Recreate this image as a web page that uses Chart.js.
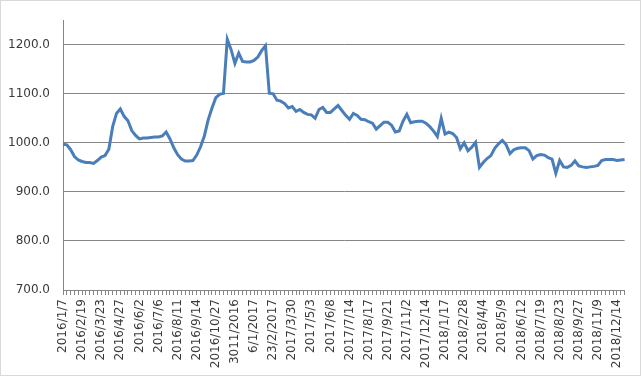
<!DOCTYPE html>
<html>
<head>
<meta charset="utf-8">
<script src="https://cdn.jsdelivr.net/npm/chart.js@4.4.1/dist/chart.umd.min.js"></script>
<style>
  html, body { margin: 0; padding: 0; background: #fff; }
  #wrap { width: 643px; height: 378px; position: relative; }
</style>
</head>
<body>
<div id="wrap"><canvas id="priceChart" width="643" height="378"></canvas></div>
<script>
// one label every 5 weekly points
const tickLabels = [
  '2016/1/7', '2016/2/19', '2016/3/23', '2016/4/27', '2016/6/2', '2016/7/6',
  '2016/8/11', '2016/9/14', '2016/10/27', '3011/2016', '6/1/2017', '23/2/2017',
  '2017/3/30', '2017/5/3', '2017/6/8', '2017/7/14', '2017/8/17', '2017/9/21',
  '2017/11/2', '2017/12/14', '2018/1/17', '2018/2/28', '2018/4/4', '2018/5/9',
  '2018/6/12', '2018/7/19', '2018/8/23', '2018/9/27', '2018/11/9', '2018/12/14'
];

const priceValues = [
  997, 996, 986, 972, 965, 962, 960, 960, 958, 964,
  971, 974, 987, 1033, 1060, 1069, 1054, 1045, 1025, 1015,
  1008, 1010, 1010, 1011, 1012, 1012, 1014, 1022, 1008, 990,
  976, 967, 963, 963, 964, 975, 992, 1014, 1047, 1071,
  1092, 1099, 1101, 1211, 1190, 1162, 1183, 1166, 1165, 1165,
  1168, 1175, 1188, 1198, 1101, 1100, 1087, 1085, 1080, 1071,
  1074, 1064, 1068, 1062, 1058, 1057, 1050, 1068, 1072, 1062,
  1062, 1069, 1076, 1066, 1056, 1048, 1060, 1056, 1048, 1047,
  1043, 1040, 1028, 1035, 1042, 1042, 1036, 1022, 1024, 1044,
  1058, 1041, 1043, 1044, 1044, 1040, 1033, 1024, 1013, 1050,
  1018, 1022, 1019, 1011, 988, 1000, 984, 991, 1001, 950,
  960, 968, 974, 989, 998, 1005, 996, 978, 986, 989,
  990, 990, 984, 967, 974, 976, 975, 970, 967, 938,
  964, 951, 950, 954, 963, 953, 951, 950, 951, 952,
  954, 964, 966, 966, 966, 964, 965, 966
];

const yTicks = [700, 800, 900, 1000, 1100, 1200];

const categories = priceValues.map((v, i) => i % 5 === 0 ? tickLabels[i / 5] : '');

const axisGray = '#868686';
const textColor = '#3a3a3a';
const font = { family: "'DejaVu Sans', sans-serif", size: 12 };

const framePlugin = {
  id: 'frame',
  beforeDraw(chart) {
    const c = chart.ctx;
    c.save();
    c.fillStyle = '#fff';
    c.fillRect(0, 0, chart.width, chart.height);
    c.strokeStyle = '#d9d9d9';
    c.lineWidth = 1;
    c.strokeRect(0.5, 0.5, 640, 375);
    c.restore();
  }
};

new Chart(document.getElementById('priceChart'), {
  type: 'line',
  data: {
    labels: categories,
    datasets: [{
      data: priceValues,
      borderColor: '#4a7ebb',
      borderWidth: 3,
      pointRadius: 0,
      tension: 0,
      fill: false
    }]
  },
  options: {
    responsive: false,
    animation: false,
    layout: { padding: { top: 3, right: 16, left: 0, bottom: 0 } },
    plugins: { legend: { display: false }, tooltip: { enabled: false } },
    scales: {
      x: {
        type: 'category',
        offset: false,
        grid: { drawOnChartArea: false, drawTicks: true, tickLength: 5, color: axisGray },
        border: { color: axisGray },
        ticks: {
          autoSkip: false, maxRotation: 90, minRotation: 90, padding: 4,
          color: textColor, font: font,
          callback: (v, i) => categories[i]
        },
        afterFit: s => { s.height = 88; }
      },
      y: {
        min: 700,
        max: 1250,
        afterBuildTicks: s => { s.ticks = yTicks.map(v => ({ value: v })); },
        grid: { color: axisGray, drawTicks: false },
        border: { color: axisGray },
        ticks: {
          padding: 13, color: textColor, font: font,
          callback: v => v.toFixed(1)
        },
        afterFit: s => { s.width = 63; }
      }
    }
  },
  plugins: [framePlugin]
});
</script>
</body>
</html>
